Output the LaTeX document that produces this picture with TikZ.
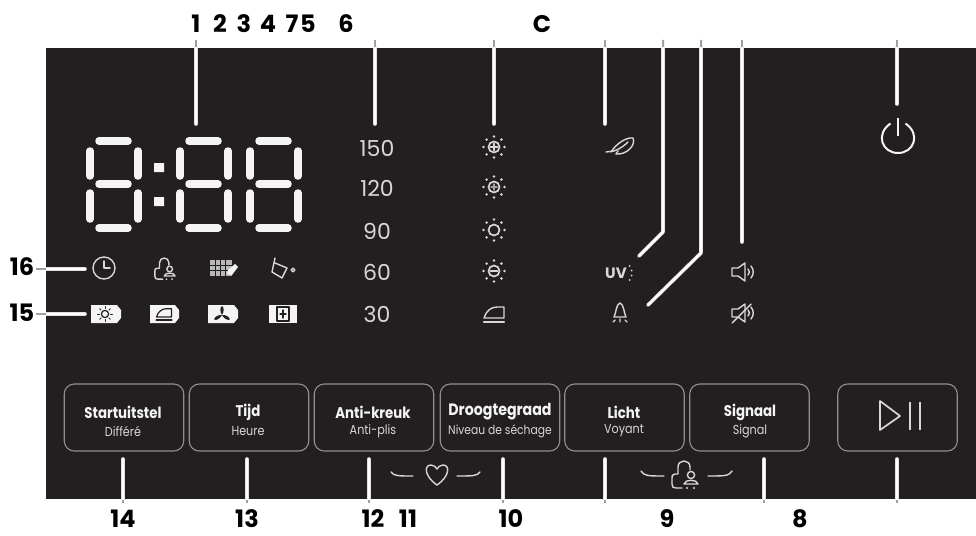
\documentclass[tikz,border=0pt]{standalone}
\usepackage{fontspec}
\setmainfont{Poppins}
\newfontfamily\btnfont[FakeStretch=0.86]{Poppins}
\definecolor{panel}{HTML}{231F20}
\definecolor{lit}{HTML}{F4F4F4}
\definecolor{soft}{HTML}{D8D8D8}
\definecolor{edge}{HTML}{8F8F8F}
\newcommand{\fs}[1]{\fontsize{#1}{#1}\selectfont}
\tikzset{
  numlabel/.style={text=black,font=\fs{24}\bfseries,inner sep=0pt},
  scalenum/.style={text=soft,font=\fs{22},inner sep=0pt},
  keybox/.style={draw=edge,line width=1.1pt,rounded corners=10pt,minimum width=119.5pt,minimum height=67pt,inner sep=0pt},
  keytext/.style={align=center,inner sep=0pt},
  icon/.style={draw=soft,line width=1.4pt,line cap=round,line join=round},
  dark/.style={draw=panel,line width=1.2pt,line cap=round,line join=round},
  segment/.style={draw=lit,line width=7.5pt,line cap=round},
  outerlead/.style={draw=edge!85,line width=2pt},
  innerlead/.style={draw=soft!80,line width=3.6pt,line cap=round,line join=round,postaction={draw=white,line width=1.8pt}},
}
\newcommand{\digit}[1]{\begin{scope}[shift={(#1,0)}]
  \draw[segment] (13,141)--(42,141);
  \draw[segment] (13,184)--(42,184);
  \draw[segment] (13,228)--(42,228);
  \draw[segment] (4,151)--(4,176);
  \draw[segment] (52,151)--(52,176);
  \draw[segment] (4,193)--(4,219);
  \draw[segment] (52,193)--(52,219);
\end{scope}}
\newcommand{\sunrays}{\foreach \a in {0,45,...,315}{\fill[soft] (\a:10.5) circle (1.4);}}
\newcommand{\sunicon}[3]{\begin{scope}[shift={(#1,#2)}]
  \sunrays \draw[icon,line width=1.7pt] (0,0) circle (5.5);
  #3
\end{scope}}
\newcommand{\ironshape}[1]{\draw[#1] (-10,4) .. controls (-8,-3) and (-3,-7) .. (3,-7) -- (10,-7) -- (10,4) -- cycle;
  \draw[#1,line width=2.4pt] (-10,8)--(10,8);}
\newcommand{\childlock}[3]{\begin{scope}[shift={(#1,#2)},scale=#3]
  \draw[icon] (5,-5) -- (5,-8) .. controls (5,-16) and (-7,-16) .. (-7,-8) -- (-7,-1) -- (-10,-1) .. controls (-13,-1) and (-13,1) .. (-13,3) -- (-13,9) .. controls (-13,12) and (-12,13) .. (-9,13) -- (-3,13);
  \draw[icon] (6,0) circle (3.6);
  \draw[icon] (-1,9) .. controls (0,4) and (12,4) .. (13,9) -- cycle;
  \fill[soft] (2,13) circle (1.2) (9,13) circle (1.2);
\end{scope}}
\newcommand{\leadlines}[1]{
  \draw[#1] (a1)--(b1); \draw[#1] (a6)--(b6); \draw[#1] (aC)--(bC); \draw[#1] (aF)--(bF);
  \draw[#1] (aU)--(mU)--(bU); \draw[#1] (aB)--(mB)--(bB); \draw[#1] (aS)--(bS); \draw[#1] (aP)--(bP);
  \draw[#1] (a16)--(b16); \draw[#1] (a15)--(b15);
  \draw[#1] (a14)--(b14); \draw[#1] (a13)--(b13); \draw[#1] (a12)--(b12); \draw[#1] (a10)--(b10);
  \draw[#1] (a9)--(b9); \draw[#1] (a8)--(b8); \draw[#1] (a7)--(b7);
}
\begin{document}
\begin{tikzpicture}[x=1pt,y=-1pt]
\useasboundingbox (0,0) rectangle (976,535);
\fill[white] (0,0) rectangle (976,535);
% leader ends
\coordinate (a1) at (196,40);  \coordinate (b1) at (196,124);
\coordinate (a6) at (375,40);  \coordinate (b6) at (375,124);
\coordinate (aC) at (494,40);  \coordinate (bC) at (494,124);
\coordinate (aF) at (605,40);  \coordinate (bF) at (605,124);
\coordinate (aU) at (663,40);  \coordinate (mU) at (663,232); \coordinate (bU) at (639,256);
\coordinate (aB) at (701,40);  \coordinate (mB) at (701,253); \coordinate (bB) at (648,305);
\coordinate (aS) at (742,40);  \coordinate (bS) at (742,242);
\coordinate (aP) at (897,40);  \coordinate (bP) at (897,104);
\coordinate (a16) at (36,269); \coordinate (b16) at (85,269);
\coordinate (a15) at (36,314); \coordinate (b15) at (85,314);
\coordinate (a14) at (123,503); \coordinate (b14) at (123,459);
\coordinate (a13) at (247,503); \coordinate (b13) at (247,459);
\coordinate (a12) at (369,503); \coordinate (b12) at (369,459);
\coordinate (a10) at (503,503); \coordinate (b10) at (503,459);
\coordinate (a9) at (605,503);  \coordinate (b9) at (605,459);
\coordinate (a8) at (764,503);  \coordinate (b8) at (764,459);
\coordinate (a7) at (897,503);  \coordinate (b7) at (897,459);
\leadlines{outerlead}
\fill[panel] (46,48) rectangle (976,499);
\begin{scope}
  \clip (46,48) rectangle (976,499);
  \leadlines{innerlead}
\end{scope}
% labels
\foreach \n/\t/\x/\y in {t1/1/196/24,t2/2/220/24,t3/3/244/24,t4/4/268/24,t7/7/292/24,t5/5/308/24,t6/6/346/24,tC/C/542/24,
  t16/16/22/267,t15/15/22/313,t14/14/123/519,t13/13/247/519,t12/12/373/519,t11/11/408/519,t10/10/511/519,t9/9/667/519,t8/8/800/519}
  {\node[numlabel] (\n) at (\x,\y) {\t};}
% display
\digit{86}\digit{176}\digit{246}
\fill[lit] (154,163) rectangle (164,172) (154,197) rectangle (164,206);
% temperature scale
\foreach \n/\t/\y in {s150/150/148,s120/120/188,s90/90/231,s60/60/272,s30/30/314}
  {\node[scalenum] (\n) at (377,\y) {\t};}
% sun column
\sunicon{494}{147}{\draw[icon] (-3.5,0)--(3.5,0) (0,-3.5)--(0,3.5);}
\sunicon{494}{187}{\draw[icon,draw=soft!70!panel] (-3,0)--(3,0) (0,-3)--(0,3);}
\sunicon{494}{230}{}
\sunicon{494}{271}{\draw[icon] (-3.5,0)--(3.5,0);}
\begin{scope}[shift={(494,314)}]\ironshape{icon}\end{scope}
% clock row
\draw[icon] (104,268) circle (11);
\draw[icon] (104,261)--(104,268)--(110,268);
\childlock{165}{269}{.78}
\begin{scope}[shift={(222,268)}]
  \fill[soft!85!black] (-12,-8) rectangle (10,8);
  \foreach \x in {-7,-2,3} {\draw[panel,line width=.7pt] (\x,-8)--(\x,8);}
  \foreach \y in {-3,2} {\draw[panel,line width=.7pt] (-12,\y)--(10,\y);}
  \fill[lit] (6,2) -- (13,-4) -- (16,-1) -- (10,7) -- (5,6) -- cycle;
\end{scope}
\begin{scope}[shift={(283,269)}]
  \draw[icon] (-8,-11) -- (-11,3) -- (-1,9) -- (4,-1) -- (-8,-6);
  \draw[icon] (10,1) circle (1.8);
\end{scope}
% filled row
\foreach \a/\b in {91/121,150/179,208/238}
  {\fill[lit] (\a,305) -- (\b-4,305) -- (\b,310) -- (\b,318) -- (\b-4,323) -- (\a,323) -- cycle;}
\fill[lit] (269,305) rectangle (297,323);
\begin{scope}[shift={(105,314)}]
  \draw[dark] (0,0) circle (3.6);
  \foreach \a in {0,45,...,315} {\draw[dark,line width=.9pt] (\a:5.5)--(\a:7.5);}
\end{scope}
\begin{scope}[shift={(164,314)},scale=.75]\ironshape{dark}\end{scope}
\begin{scope}[shift={(222,315)}]
  \foreach \a in {90,210,330} {\fill[panel,rotate=\a] (0,0) .. controls (3,-2.2) and (8,-2.2) .. (9,0) .. controls (8,2.2) and (3,2.2) .. (0,0) -- cycle;}
\end{scope}
\begin{scope}[shift={(283,314)}]
  \draw[dark] (-6,-7) rectangle (6,7) (0,-4)--(0,4) (-3,0)--(3,0);
\end{scope}
% right icons
\begin{scope}[shift={(620,146)}]
  \draw[icon] (-9,6) .. controls (-4,-2) and (6,-9) .. (13,-8) .. controls (16,-1) and (7,9) .. (-4,8);
  \draw[icon] (-14,6) -- (-6,5) .. controls (0,3) and (5,-1) .. (8,-4);
  \draw[icon] (-4,8) -- (-2,5);
\end{scope}
\node[inner sep=0pt,text=soft,font=\fs{15}\bfseries] (uv) at (616,273) {UV};
\begin{scope}[shift={(632,273)}]
  \foreach \y in {-7,-2.5,2.5,7} {\fill[soft] (\y*\y*-.05,\y) circle (1);}
\end{scope}
\begin{scope}[shift={(620,312)}]
  \draw[icon] (-6,5) .. controls (-4,2) and (-4,-8) .. (0,-9) .. controls (4,-8) and (4,2) .. (6,5) -- cycle;
  \draw[icon] (0,7)--(0,10) (-5,8)--(-7,10) (5,8)--(7,10);
\end{scope}
\begin{scope}[shift={(743,272)}]
  \draw[icon] (-11,-4) -- (-5,-4) -- (2,-9) -- (2,9) -- (-5,4) -- (-11,4) -- cycle;
  \draw[icon] (5,-3) .. controls (7,-1) and (7,1) .. (5,3);
  \draw[icon] (8,-6) .. controls (11,-2) and (11,2) .. (8,6);
\end{scope}
\begin{scope}[shift={(743,313)}]
  \draw[icon] (-11,-4) -- (-5,-4) -- (2,-9) -- (2,9) -- (-5,4) -- (-11,4) -- cycle;
  \draw[icon] (5,-3) .. controls (7,-1) and (7,1) .. (5,3);
  \draw[icon] (8,-6) .. controls (11,-2) and (11,2) .. (8,6);
  \draw[icon] (-11,10) -- (8,-9);
\end{scope}
\draw[draw=lit,line width=2pt] (905.5,123.5) .. controls (921,134) and (914,153) .. (898,153) .. controls (882,153) and (875,134) .. (890.5,123.5);
\draw[draw=lit,line width=2pt] (898,118)--(898,136);
% keys
\node[keybox] (k1) at (124,417.5) {};
\node[keybox] (k2) at (249,417.5) {};
\node[keybox] (k3) at (374,417.5) {};
\node[keybox] (k4) at (500,417.5) {};
\node[keybox] (k5) at (624.5,417.5) {};
\node[keybox] (k6) at (749.5,417.5) {};
\node[keybox] (k7) at (897.5,417.5) {};
\foreach \n/\x/\a/\b in {1/123/Startuitstel/Différé,2/248/Tijd/Heure,3/373/Anti-kreuk/Anti-plis,5/624/Licht/Voyant,6/750/Signaal/Signal}
{
  \node[keytext,text=lit,font=\btnfont\fs{15.5}\bfseries] (u\n) at (\x,412) {\a};
  \node[keytext,text=soft,font=\btnfont\fs{13}] (d\n) at (\x,431) {\b};
}
\node[keytext,text=lit,font=\btnfont\fs{16.5}\bfseries] (u4) at (500,412) {Droogtegraad};
\node[keytext,text=soft,font=\btnfont\fs{12.5}] (d4) at (500,431) {Niveau de séchage};
% play pause
\draw[draw=soft,line width=1.7pt,line join=round] (880,401) -- (900,416) -- (880,430) -- cycle;
\draw[draw=soft,line width=1.7pt] (910,402)--(910,430) (920,402)--(920,430);
% combos
\draw[icon] (391,472) .. controls (394,476) and (398,476) .. (413,476);
\draw[icon] (480,472) .. controls (477,476) and (473,476) .. (457,476);
\draw[icon] (437,485) .. controls (424,476) and (424,465) .. (431,465) .. controls (434,465) and (436,467) .. (437,469) .. controls (438,467) and (440,465) .. (443,465) .. controls (450,465) and (450,476) .. (437,485) -- cycle;
\draw[icon] (641,471) .. controls (644,476) and (648,476) .. (664,476);
\draw[icon] (732,471) .. controls (729,476) and (725,476) .. (708,476);
\childlock{685}{475}{1}
\end{tikzpicture}
\end{document}
